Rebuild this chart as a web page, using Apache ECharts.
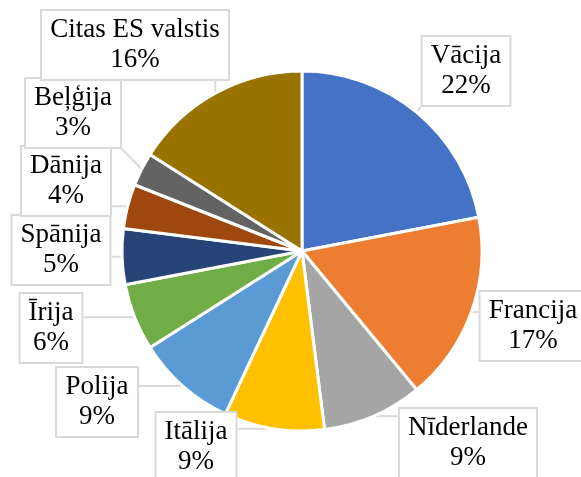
<!DOCTYPE html>
<html>
<head>
<meta charset="utf-8">
<script src="https://cdn.jsdelivr.net/npm/echarts@6/dist/echarts.min.js"></script>
<style>
  html, body { margin: 0; padding: 0; background: #fff; }
  #chart { width: 581px; height: 477px; }
</style>
</head>
<body>
<div id="chart"></div>
<script>
    var countries = ['Vācija', 'Francija', 'Nīderlande', 'Itālija', 'Polija', 'Īrija', 'Spānija', 'Dānija', 'Beļģija', 'Citas ES valstis'];
    var shares = [22, 17, 9, 9, 9, 6, 5, 4, 3, 16];
    var colors = ['#4472C4', '#ED7D31', '#A5A5A5', '#FFC000', '#5B9BD5', '#70AD47', '#264478', '#9E480E', '#636363', '#997300'];

    // label box centres (px), same order as countries
    var labelPos = [
        [466, 71], [533, 326], [468, 443], [196, 447], [97, 402],
        [51, 328], [61, 250], [66, 181], [73, 113], [135, 45]
    ];

    var cx = 302, cy = 251, R = 180;
    var labelFont = '27px "Liberation Serif"';

    // measure text so pie layout doesn't squeeze the boxes
    var ctx = document.createElement('canvas').getContext('2d');
    ctx.font = labelFont;
    function textWidth(i) {
        return Math.ceil(Math.max(ctx.measureText(countries[i]).width, ctx.measureText(shares[i] + '%').width));
    }

    var chart = echarts.init(document.getElementById('chart'));
    chart.setOption({
        animation: false,
        color: colors,
        series: [{
            type: 'pie',
            center: [cx, cy],
            radius: R,
            startAngle: 90,
            clockwise: true,
            itemStyle: { borderColor: '#fff', borderWidth: 3 },
            label: {
                show: true,
                formatter: function (p) { return p.name + '\n' + p.value + '%'; },
                fontFamily: 'Liberation Serif',
                fontSize: 27,
                lineHeight: 30,
                color: '#000',
                align: 'center',
                overflow: 'none',
                backgroundColor: '#fff',
                borderColor: '#d9d9d9',
                borderWidth: 2,
                padding: [4, 8]
            },
            labelLine: {
                show: true,
                lineStyle: { color: '#d9d9d9', width: 2 }
            },
            labelLayout: function (params) {
                var i = params.dataIndex;
                var pos = labelPos[i];
                // mid angle of the slice, measured clockwise from top
                var before = 0, total = 0;
                for (var k = 0; k < shares.length; k++) {
                    if (k < i) before += shares[k];
                    total += shares[k];
                }
                var a = (before + shares[i] / 2) / total * Math.PI * 2;
                var sx = cx + R * Math.sin(a), sy = cy - R * Math.cos(a);
                var w = params.labelRect.width, h = params.labelRect.height;
                var ex = Math.max(pos[0] - w / 2, Math.min(pos[0] + w / 2, sx));
                var ey = Math.max(pos[1] - h / 2, Math.min(pos[1] + h / 2, sy));
                return {
                    x: pos[0], y: pos[1], align: 'center', verticalAlign: 'middle',
                    labelLinePoints: [[sx, sy], [ex, ey], [ex, ey]]
                };
            },
            data: countries.map(function (name, i) {
                return { name: name, value: shares[i], label: { width: textWidth(i) } };
            })
        }]
    });
</script>
</body>
</html>
